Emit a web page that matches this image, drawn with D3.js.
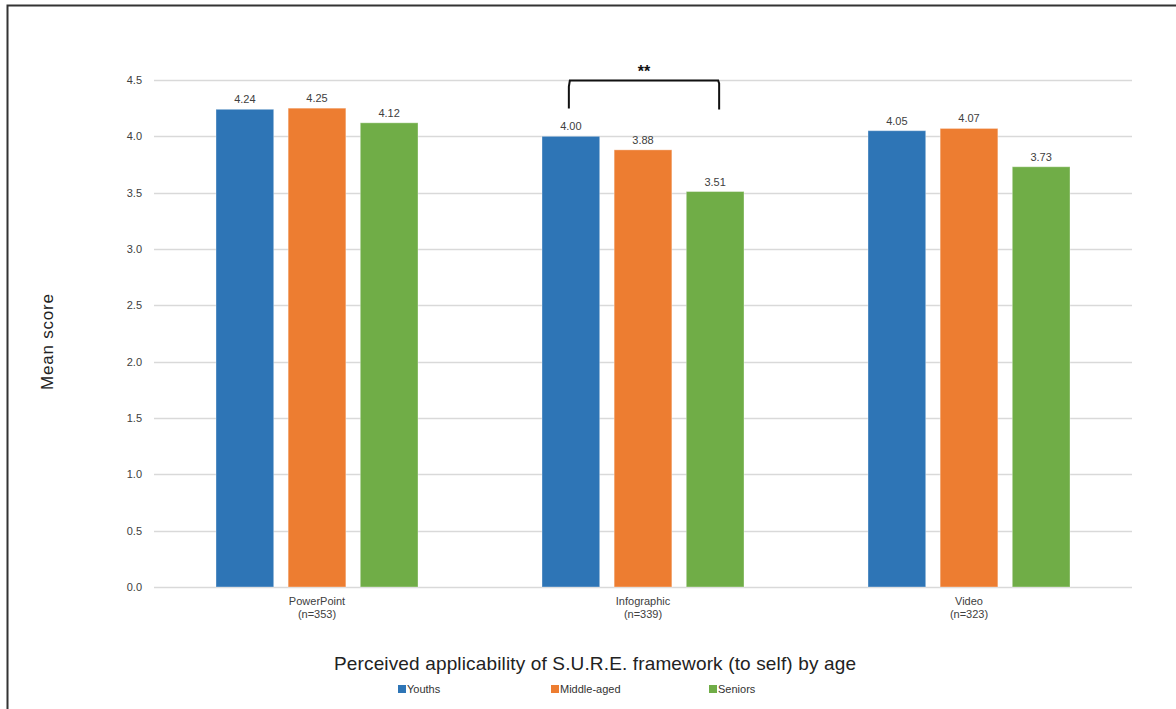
<!DOCTYPE html>
<html>
<head>
<meta charset="utf-8">
<script src="https://cdn.jsdelivr.net/npm/d3@7"></script>
<style>
  body { margin: 0; background: #fff; }
  svg { display: block; font-family: "Liberation Sans", Arial, sans-serif; }
</style>
</head>
<body>
<svg id="chart" width="1176" height="709"></svg>
<script>
// Mean applicability scores by presentation format and age group
const categories = ["PowerPoint", "Infographic", "Video"];
const categoryN = ["(n=353)", "(n=339)", "(n=323)"];
const seriesNames = ["Youths", "Middle-aged", "Seniors"];
const youths = [4.24, 4.00, 4.05];
const middleAged = [4.25, 3.88, 4.07];
const seniors = [4.12, 3.51, 3.73];
const yTicks = [0, 0.5, 1, 1.5, 2, 2.5, 3, 3.5, 4, 4.5];
const colors = ["#2E75B6", "#ED7D31", "#70AD47"];

const seriesValues = [youths, middleAged, seniors];

const svg = d3.select("#chart");
const margin = { left: 154, right: 1132, top: 80, bottom: 587 };
const groupWidth = 202;

const x0 = d3.scaleBand().domain(categories).range([margin.left, margin.right]).paddingInner(0).paddingOuter(0);
const x1 = d3.scaleBand().domain(seriesNames).range([0, groupWidth]).paddingInner(0.2).paddingOuter(0);
const y = d3.scaleLinear().domain([0, 4.5]).range([margin.bottom, margin.top]);
const groupLeft = c => x0(c) + (x0.bandwidth() - groupWidth) / 2;

// Outer frame
svg.append("path")
  .attr("d", "M7.5,709 V5.5 H1176")
  .attr("fill", "none")
  .attr("stroke", "#333")
  .attr("stroke-width", 2);

// Gridlines
svg.append("g").selectAll("line").data(yTicks).join("line")
  .attr("x1", margin.left).attr("x2", margin.right)
  .attr("y1", d => Math.round(y(d)) + 0.5).attr("y2", d => Math.round(y(d)) + 0.5)
  .attr("stroke", "#d9d9d9").attr("stroke-width", 1.5);

// Y axis labels
const yAxis = d3.axisLeft(y).tickValues(yTicks).tickFormat(d3.format(".1f")).tickSize(0).tickPadding(12);
const yg = svg.append("g").attr("transform", `translate(${margin.left},0)`).call(yAxis);
yg.select(".domain").remove();
yg.selectAll("text").attr("font-size", 11).attr("fill", "#404040").attr("font-family", "Liberation Sans, Arial, sans-serif");

// Bars with value labels
const groups = svg.append("g").selectAll("g").data(categories).join("g")
  .attr("transform", d => `translate(${groupLeft(d)},0)`);

groups.each(function(cat, ci) {
  const g = d3.select(this);
  seriesNames.forEach((s, si) => {
    const v = seriesValues[si][ci];
    g.append("rect")
      .attr("x", x1(s))
      .attr("y", y(v))
      .attr("width", x1.bandwidth())
      .attr("height", y(0) - y(v))
      .attr("fill", colors[si])
      .attr("stroke", "#fff")
      .attr("stroke-opacity", 0.35)
      .attr("stroke-width", 1);
    g.append("text")
      .attr("x", x1(s) + x1.bandwidth() / 2)
      .attr("y", y(v) - 6)
      .attr("text-anchor", "middle")
      .attr("font-size", 11)
      .attr("fill", "#404040")
      .text(v.toFixed(2));
  });
});

// Category labels
const xl = svg.append("g");
categories.forEach((c, i) => {
  const cx = x0(c) + x0.bandwidth() / 2;
  xl.append("text").attr("x", cx).attr("y", 605).attr("text-anchor", "middle")
    .attr("font-size", 11).attr("fill", "#404040").text(c);
  xl.append("text").attr("x", cx).attr("y", 618).attr("text-anchor", "middle")
    .attr("font-size", 11).attr("fill", "#404040").text(categoryN[i]);
});

// Y axis title
svg.append("text")
  .attr("transform", "translate(53,342) rotate(-90)")
  .attr("text-anchor", "middle")
  .attr("font-size", 17)
  .attr("textLength", 96)
  .attr("fill", "#222")
  .text("Mean score");

// X axis title
svg.append("text")
  .attr("x", 595).attr("y", 670)
  .attr("text-anchor", "middle")
  .attr("font-size", 19)
  .attr("textLength", 522)
  .attr("fill", "#222")
  .text("Perceived applicability of S.U.R.E. framework (to self) by age");

// Legend
const legendX = [398, 551, 709];
seriesNames.forEach((s, i) => {
  svg.append("rect").attr("x", legendX[i]).attr("y", 685).attr("width", 8).attr("height", 8).attr("fill", colors[i]);
  svg.append("text").attr("x", legendX[i] + 9).attr("y", 693)
    .attr("font-size", 11).attr("fill", "#333").text(s);
});

// Significance bracket between Youths and Seniors (Infographic)
const infoX = groupLeft("Infographic");
const bxL = infoX + x1("Youths") + x1.bandwidth() / 2 - 2;
const bxR = infoX + x1("Seniors") + x1.bandwidth() / 2 + 4;
const bTop = y(4.5) + 0.5;
svg.append("path")
  .attr("d", `M${bxL},${bTop + 28} L${bxL},${bTop + 6} L${bxL + 1},${bTop} L${bxR - 1},${bTop} L${bxR},${bTop + 3} L${bxR},${bTop + 29}`)
  .attr("fill", "none")
  .attr("stroke", "#111")
  .attr("stroke-width", 2);
svg.append("text")
  .attr("x", (bxL + bxR) / 2).attr("y", 77)
  .attr("text-anchor", "middle")
  .attr("font-size", 16)
  .attr("font-weight", "bold")
  .attr("fill", "#111")
  .text("**");
</script>
</body>
</html>
